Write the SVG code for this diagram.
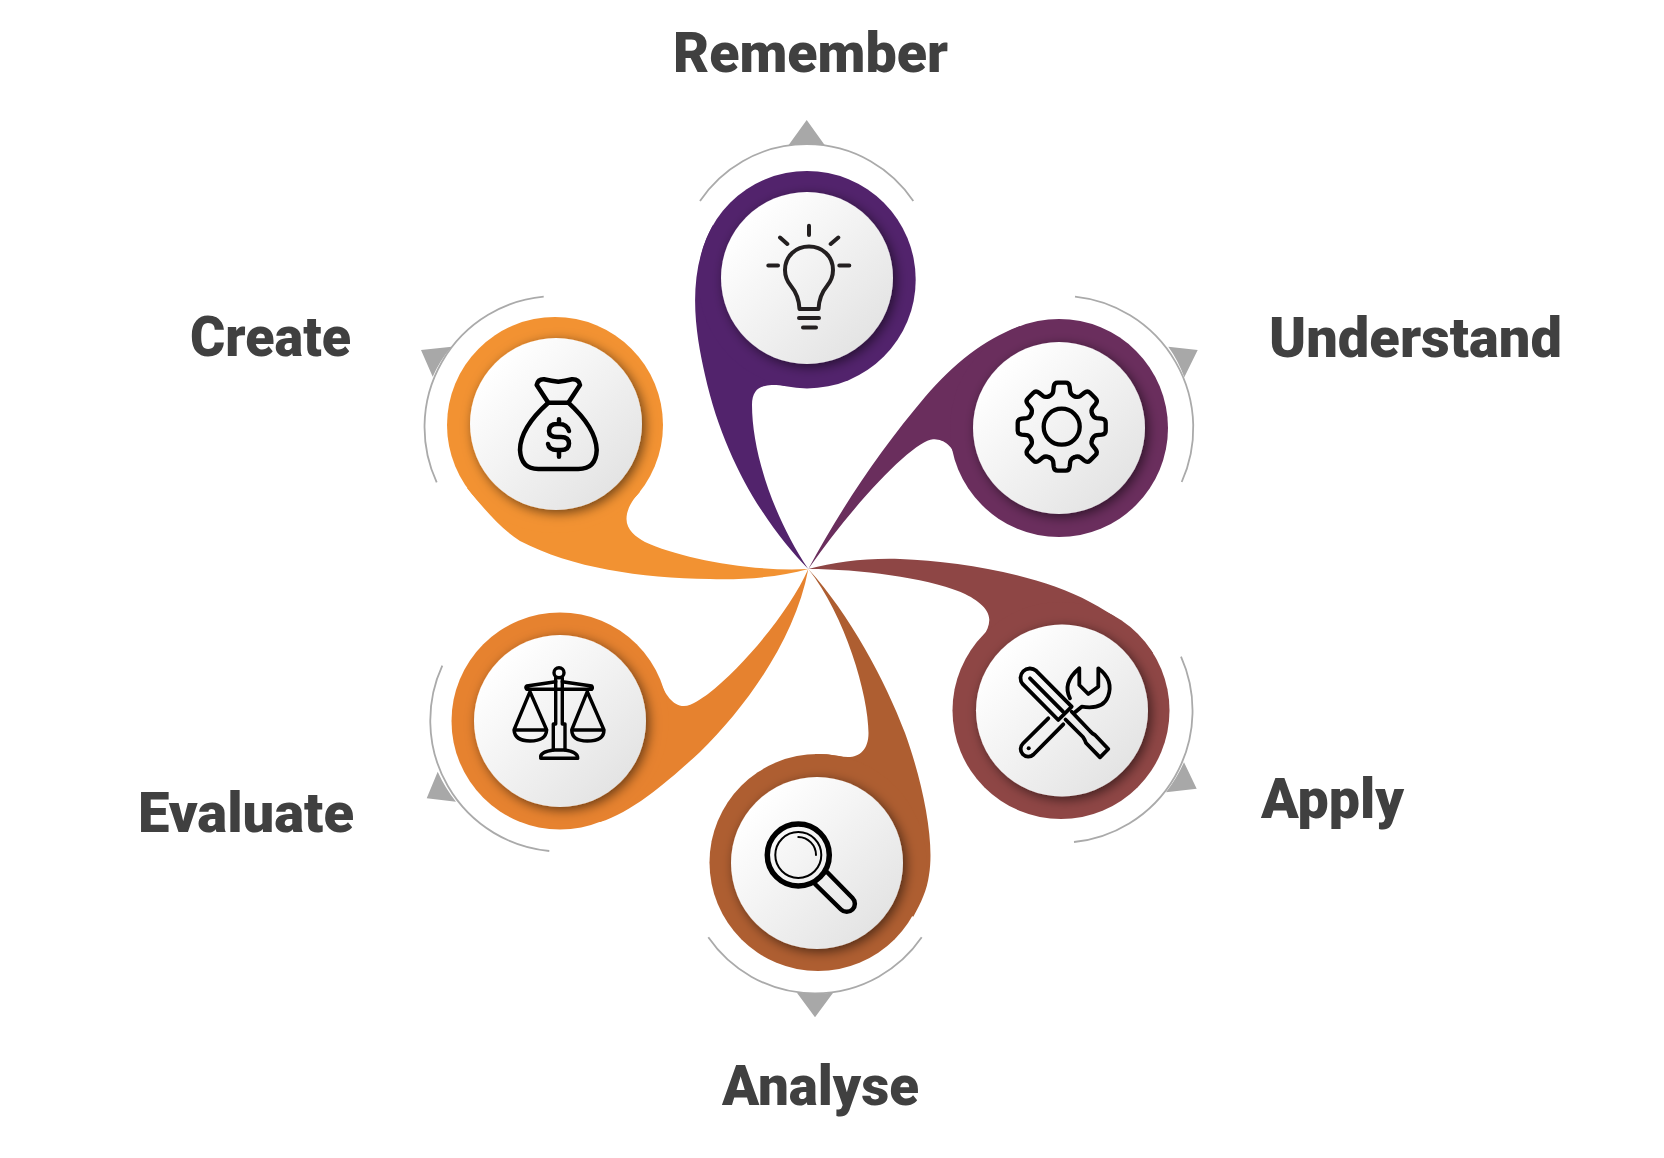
<svg xmlns="http://www.w3.org/2000/svg" width="1664" height="1158" viewBox="0 0 1664 1158">
<style>
.label{font-family:"Roboto","Liberation Sans",sans-serif;font-weight:900;font-size:56px;fill:#404040}
.arc{fill:none;stroke:#aaaaaa;stroke-width:1.8}
.tri{fill:#a8a8a8}
.disc{fill:url(#discGrad);filter:url(#shadow)}
.icon{fill:none;stroke:#000;stroke-width:4.3;stroke-linecap:round;stroke-linejoin:round}
</style>
<defs>
<linearGradient id="discGrad" x1="0.15" y1="0.15" x2="0.85" y2="0.85"><stop offset="0" stop-color="#ffffff"/><stop offset="1" stop-color="#e4e4e4"/></linearGradient>
<filter id="shadow" x="-20%" y="-20%" width="140%" height="140%"><feDropShadow dx="3" dy="3" stdDeviation="6" flood-color="#000" flood-opacity="0.55"/></filter>
<path id="gearTooth" d="M-12.6-30.5Q-9-32-8.5-35L-8-40Q-7.5-44-4-44H4Q7.5-44 8-40L8.5-35Q9-32 12.6-30.5"/>
</defs>
<rect width="1664" height="1158" fill="#fff"/>
<g id="connectors">
<path class="arc" d="M700 201A128.5 128.5 0 0 1 913.3 201"/>
<path class="tri" d="M806.7 120L825 145.5Q807 143 788.3 145.5Z"/>
<path class="arc" d="M1075 296.7A132 132 0 0 1 1181.7 482"/>
<path class="tri" d="M1168.3 346.7L1197.7 350L1184.3 377.3Q1178 360 1168.3 346.7Z"/>
<path class="arc" d="M1181 656.7A132 132 0 0 1 1074 842"/>
<path class="tri" d="M1184 762.3L1196.7 788.7L1166 792.3Q1177 778 1184 762.3Z"/>
<path class="arc" d="M708.3 937.3A129.5 129.5 0 0 0 921.7 937.3"/>
<path class="tri" d="M796.7 992.5Q815 995 833.3 992.5L815 1017.3Z"/>
<path class="arc" d="M442.3 665.7A131 131 0 0 0 549.3 851"/>
<path class="tri" d="M437.7 771.7Q445 788 456 801.7L426.7 798.3Z"/>
<path class="arc" d="M543.7 296.7A131 131 0 0 0 436.7 482.3"/>
<path class="tri" d="M421 350L451.7 346.7Q440 360 432.7 376.7Z"/>
</g>
<g id="node-remember">
<g fill="#52236c"><path d="M808.3 569C770 530 725 465 705 375C696 335 685 275 713 225L807 280L785 386C775 384.5 770 385 765 386C757 387 752 393 752 405C752 450 772 515 808.3 569Z"/><circle cx="807" cy="279.7" r="108.7"/></g>
<circle class="disc" cx="807" cy="278" r="86"/>
<g class="icon" style="stroke:#231f20;stroke-width:4">
<path d="M799.5 309C799 298 796 292 791 286C786 280 785 276 785 270C785 256 796 246.5 809 246.5C822 246.5 833 256 833 270C833 276 832 280 827 286C822 292 819 298 818.5 309Z"/>
<path d="M799 318H819M803 327.4H816M809 225.7V235M768.3 265.6H778M839.3 265.6H849.3M780 237.5L787.3 244M838.3 237.5L830.7 244"/>
</g>
<text class="label" x="673" y="72" textLength="275" lengthAdjust="spacingAndGlyphs">Remember</text>
</g>
<g id="node-understand">
<g fill="#6a2e5d"><path d="M808.3 569C840 510 880 450 925 397C955 362 985 339 1020 326L1059 428L956.7 460C951.7 443 942 439.3 933 439.3C915 440 858 498 808.3 569Z"/><circle cx="1059" cy="428" r="109"/></g>
<circle class="disc" cx="1059" cy="428" r="86"/>
<g class="icon" transform="translate(1061.7 426.7)">
<circle r="18"/>
<use href="#gearTooth"/>
<use href="#gearTooth" transform="rotate(45)"/>
<use href="#gearTooth" transform="rotate(90)"/>
<use href="#gearTooth" transform="rotate(135)"/>
<use href="#gearTooth" transform="rotate(180)"/>
<use href="#gearTooth" transform="rotate(225)"/>
<use href="#gearTooth" transform="rotate(270)"/>
<use href="#gearTooth" transform="rotate(315)"/>
</g>
<text class="label" x="1269" y="357" textLength="293" lengthAdjust="spacingAndGlyphs">Understand</text>
</g>
<g id="node-apply">
<g fill="#8e4645"><path d="M808.3 569C835 562 865 558 900 559C960 561 1040 575 1090 602C1112 614 1135 628 1153 653L1061 710.5L973.3 648.3C980 640 989 632 989.3 620C989.5 608 975 598 960 591.7C925 578 860 569 808.3 569Z"/><circle cx="1061" cy="710.5" r="108.5"/></g>
<circle class="disc" cx="1062" cy="710.5" r="86"/>
<g class="icon" style="stroke-width:3.8">
<path d="M1022.8 684.2A9.5 9.5 0 0 1 1036.2 670.8L1071.7 706.7L1058.3 720Z"/>
<path d="M1030 678.3L1063 711.7M1071.7 711.7L1090 731Q1092 733.5 1095 735L1108.3 749L1100 757.3L1086 743Q1085 740 1083 737L1065.5 719.5"/>
<path d="M1048.3 718.3L1023 743.5A7.5 7.5 0 0 0 1033.5 754.5L1063.3 724.3"/>
<path d="M1070 698.3Q1062 683 1079.3 668.3V685L1088.3 694L1098.3 686.7V668.3Q1114 680 1108 696.7Q1103 710 1081.7 706.7L1075 712.3"/>
</g>
<circle cx="1028.7" cy="748.3" r="2"/>
<text class="label" x="1261" y="818" textLength="143" lengthAdjust="spacingAndGlyphs">Apply</text>
</g>
<g id="node-analyse">
<g fill="#ae5e31"><path d="M808.3 569C850 615 885 680 905 733C922 780 935 840 929 875C927 890 921 903 913.3 916.7L818 862.5L815 754L826.7 754.3C835 755.5 842 757 848 757C860 757 868.5 749 868.5 733C868.5 695 845 615 808.3 569Z"/><circle cx="818" cy="862.5" r="108.5"/></g>
<circle class="disc" cx="817" cy="863" r="86"/>
<g class="icon">
<circle cx="798.3" cy="855" r="31" style="stroke-width:5.5"/>
<circle cx="798.3" cy="855" r="23" style="stroke-width:2"/>
<path style="stroke-width:2" d="M798.3 837A18 18 0 0 1 816 855"/>
<path style="stroke-width:4.5" d="M815 884L841 909.5A8 8 0 0 0 852.5 898L827 872"/>
</g>
<text class="label" x="722" y="1105" textLength="197" lengthAdjust="spacingAndGlyphs">Analyse</text>
</g>
<g id="node-evaluate">
<g fill="#e6822f"><path d="M808.3 569C795 640 745 708 700 752C678 772 635 812 600 822L560 721L660 681.7C665 693 672 706 684 706C692 706 702 698 708 694C745 665 790 610 808.3 569Z"/><circle cx="560" cy="721" r="108.5"/></g>
<circle class="disc" cx="560" cy="721" r="86"/>
<g class="icon" style="stroke-width:3.4">
<circle cx="559" cy="672.7" r="5"/>
<path d="M555.7 678V724H553.3V750H565V724H562.3V678"/>
<path d="M540.7 757.3Q540 752 553.3 750M565 750Q578 752 577.7 758.3H540.7"/>
<path d="M526.7 689.3Q525 687 526.7 686L555.7 681.7M562.3 681.7L591.7 686Q593 688 591.7 689.3H526.7"/>
<path d="M530 691.7L514 730H546.7ZM514 730Q515 741 530 741Q546 741 546.7 730"/>
<path d="M587.3 691.7L571.7 730H604ZM571.7 730Q572 741 587.3 741Q604 741 604 730"/>
</g>
<text class="label" x="138" y="832" textLength="216" lengthAdjust="spacingAndGlyphs">Evaluate</text>
</g>
<g id="node-create">
<g fill="#f29232"><path d="M808.3 569C780 577 745 580 710 579C640 578 572 568 520 541C500 528 485 510 467 488L555 425L640 491.7C634 498 626.5 508 626.5 519C626.5 530 636 537 645 542C680 558 750 572 808.3 569Z"/><circle cx="555" cy="425" r="108"/></g>
<circle class="disc" cx="556" cy="424" r="86"/>
<g class="icon" style="stroke-width:4.5">
<path d="M548.3 402.7L536.7 385Q538 379 544 379.3Q552 381 558.3 381.7Q565 381 572 379.3Q579 379 580 385L568.3 402.7Z"/>
<path d="M548.3 402.7Q520 428 520 450Q521 469 538.3 469H578.3Q596 469 596.7 450Q596 428 568.3 402.7"/>
<path d="M569 431Q567 424 559 424H557Q549 424 549 431Q549 437 557 437H561Q569 437 569 443.5Q569 450 561 450H557Q549 450 548 444M559 419.3V424M559 450V456.7"/>
</g>
<text class="label" x="190" y="355.5" textLength="161" lengthAdjust="spacingAndGlyphs">Create</text>
</g>
</svg>
